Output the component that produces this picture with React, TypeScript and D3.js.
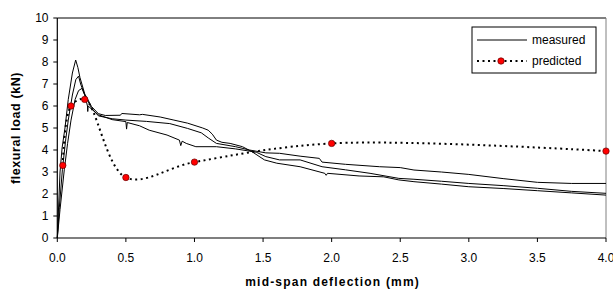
import React from "react";
import * as d3 from "d3";

// measured load-deflection curves, [deflection mm, load kN]
const measuredA: [number, number][] = [
  [0, 0], [0.01, 1.5], [0.02, 3.0], [0.035, 4.1], [0.056, 5.0], [0.08, 6.3], [0.11, 7.5], [0.134, 8.09],
  [0.15, 7.75], [0.165, 7.3], [0.2, 6.55], [0.25, 5.97], [0.3, 5.65], [0.35, 5.57], [0.46, 5.58], [0.47, 5.66],
  [0.6, 5.6], [0.62, 5.62], [0.75, 5.5], [0.85, 5.36], [0.95, 5.22], [1.06, 5.0], [1.1, 4.9], [1.13, 4.72],
  [1.16, 4.45], [1.2, 4.35], [1.26, 4.3], [1.35, 4.15], [1.42, 3.92], [1.51, 3.55], [1.6, 3.4], [1.77, 3.24],
  [1.95, 2.94], [1.96, 2.85], [1.97, 2.94], [2.2, 2.82], [2.38, 2.78], [2.49, 2.64], [2.6, 2.56], [2.8, 2.45],
  [3.0, 2.33], [3.25, 2.25], [3.5, 2.15], [3.75, 2.05], [4.0, 1.95],
];
const measuredB: [number, number][] = [
  [0, 0], [0.015, 1.4], [0.037, 3.1], [0.06, 4.4], [0.08, 5.36], [0.11, 6.5], [0.135, 7.2], [0.155, 7.36],
  [0.17, 7.0], [0.2, 6.5], [0.25, 5.9], [0.3, 5.55], [0.4, 5.42], [0.5, 5.36], [0.65, 5.3], [0.82, 5.2],
  [0.95, 4.98], [1.05, 4.78], [1.1, 4.55], [1.16, 4.3], [1.3, 4.15], [1.4, 4.0], [1.52, 3.87], [1.62, 3.85],
  [1.77, 3.72], [1.91, 3.62], [1.93, 3.45], [2.1, 3.35], [2.35, 3.24], [2.5, 3.2], [2.6, 3.09], [2.8, 3.0],
  [3.0, 2.89], [3.25, 2.7], [3.5, 2.53], [3.75, 2.48], [4.0, 2.48],
];
const measuredC: [number, number][] = [
  [0, 0], [0.02, 1.3], [0.051, 3.1], [0.075, 4.3], [0.1, 5.36], [0.13, 6.3], [0.155, 6.7], [0.18, 6.8],
  [0.2, 6.5], [0.22, 6.0], [0.222, 5.75], [0.225, 6.0], [0.27, 5.75], [0.3, 5.6], [0.4, 5.38], [0.5, 5.29],
  [0.505, 4.95], [0.51, 5.25], [0.6, 5.1], [0.67, 4.9], [0.8, 4.68], [0.89, 4.45], [0.9, 4.2], [0.91, 4.4],
  [0.94, 4.3], [1.01, 4.15], [1.16, 4.15], [1.3, 4.05], [1.45, 3.9], [1.52, 3.7], [1.62, 3.55], [1.77, 3.55],
  [1.93, 3.24], [2.1, 3.1], [2.28, 2.94], [2.49, 2.71], [2.6, 2.67], [2.8, 2.58], [3.0, 2.48], [3.25, 2.38],
  [3.5, 2.26], [3.75, 2.12], [4.0, 2.03],
];

// predicted points
const predictedX = [0.04, 0.1, 0.2, 0.5, 1.0, 2.0, 4.0];
const predictedY = [3.3, 6.0, 6.3, 2.75, 3.45, 4.3, 3.95];

const xTicks = [0, 0.5, 1, 1.5, 2, 2.5, 3, 3.5, 4];
const yTicks = [0, 1, 2, 3, 4, 5, 6, 7, 8, 9, 10];

const W = 613;
const H = 293;
const font = "'Liberation Sans', Arial, sans-serif";

export default function App() {
  const x = d3.scaleLinear().domain([0, 4]).range([57.3, 606]);
  const y = d3.scaleLinear().domain([0, 10]).range([238, 18]);

  const line = d3.line<[number, number]>().x(d => x(d[0])).y(d => y(d[1]));
  const predicted: [number, number][] = predictedX.map((v, i) => [v, predictedY[i]]);
  const smooth = d3.line<[number, number]>()
    .x(d => x(d[0]))
    .y(d => y(d[1]))
    .curve(d3.curveCatmullRom.alpha(0.5));

  const [x0, x1] = x.range();
  const [y0, y1] = y.range();

  return (
    <svg width={W} height={H} style={{position: "absolute", left: 0, top: 0, background: "#fff"}}
         fontFamily={font}>
      {/* frame */}
      <line x1={x0} x2={x1} y1={y1} y2={y1} stroke="#000" strokeWidth={1}/>
      <line x1={x1} x2={x1} y1={y1} y2={y0} stroke="#808080" strokeWidth={1}/>

      {[measuredA, measuredB, measuredC].map((s, i) => (
        <path key={i} d={line(s) || ""} fill="none" stroke="#000" strokeWidth={1}/>
      ))}

      <path d={smooth(predicted) || ""} fill="none" stroke="#000" strokeWidth={2} strokeDasharray="2,3.5"/>
      {predicted.map((d, i) => (
        <circle key={i} cx={x(d[0])} cy={y(d[1])} r={3.2} fill="#ff0000" stroke="#600" strokeWidth={0.7}/>
      ))}

      {/* axes */}
      <line x1={x0} x2={x0} y1={y0} y2={y1} stroke="#000" strokeWidth={1.2}/>
      <line x1={x0} x2={x1} y1={y0} y2={y0} stroke="#000" strokeWidth={1.2}/>
      {yTicks.map(t => (
        <g key={t}>
          <line x1={x0 - 4} x2={x0} y1={y(t)} y2={y(t)} stroke="#000"/>
          <text x={48.5} y={y(t) + 4.2} textAnchor="end" fontSize={12} fill="#000">{t}</text>
        </g>
      ))}
      {xTicks.map(t => (
        <g key={t}>
          <line x1={x(t)} x2={x(t)} y1={y0} y2={y0 + 4} stroke="#000"/>
          <text x={x(t)} y={262} textAnchor="middle" fontSize={12} fill="#000">{t.toFixed(1)}</text>
        </g>
      ))}

      <text x={(x0 + x1) / 2 + 1} y={286} textAnchor="middle" fontSize={12} fontWeight="bold"
            letterSpacing={1.2} fill="#000">mid-span deflection (mm)</text>
      <text transform={`translate(19.5,${(y0 + y1) / 2}) rotate(-90)`} textAnchor="middle" fontSize={12.5}
            fontWeight="bold" letterSpacing={0.6} fill="#000">flexural load (kN)</text>

      {/* legend */}
      <rect x={472} y={27} width={124} height={46} fill="#fff" stroke="#000" strokeWidth={1}/>
      <line x1={477} x2={527} y1={40} y2={40} stroke="#000" strokeWidth={1}/>
      <text x={532} y={44} fontSize={12} fill="#000">measured</text>
      <line x1={477} x2={527} y1={61} y2={61} stroke="#000" strokeWidth={2} strokeDasharray="2,3.5"/>
      <circle cx={501} cy={61} r={3.2} fill="#ff0000" stroke="#600" strokeWidth={0.7}/>
      <text x={532} y={65} fontSize={12} fill="#000">predicted</text>
    </svg>
  );
}
